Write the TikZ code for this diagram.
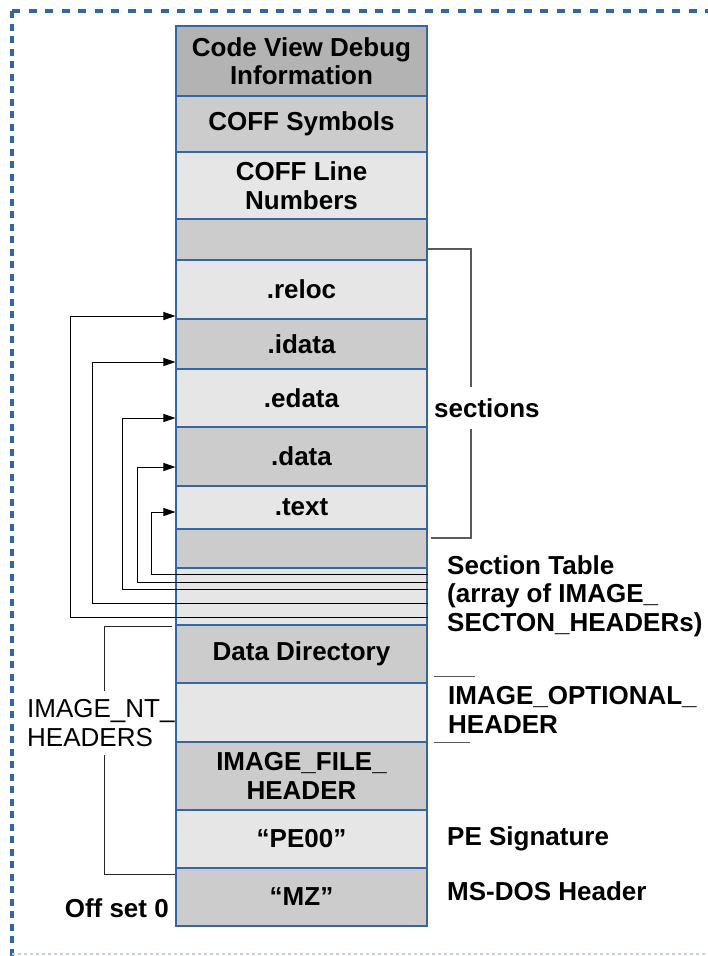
\documentclass[tikz,border=0pt]{standalone}
\usepackage{fontspec}
\setmainfont{Liberation Sans}
\usetikzlibrary{arrows.meta}

\definecolor{frameblue}{HTML}{3465A4}
\definecolor{cellborder}{HTML}{3465A4}
\definecolor{shadeA}{HTML}{B3B3B3}
\definecolor{shadeB}{HTML}{CCCCCC}
\definecolor{shadeC}{HTML}{E6E6E6}
\definecolor{brackgray}{HTML}{5A5A5A}

\begin{document}
\begin{tikzpicture}[x=1pt,y=-1pt,
  cell/.style={draw=cellborder, line width=1.1pt, minimum width=251pt,
    inner sep=0pt, align=center,
    font=\fontsize{26}{28.5}\selectfont\bfseries},
  lbl/.style={inner sep=0pt, anchor=west, align=left,
    font=\fontsize{26}{28.5}\selectfont\bfseries},
  lblreg/.style={inner sep=0pt, anchor=west, align=left,
    font=\fontsize{26}{28.5}\selectfont},
  ptr/.style={draw=black, line width=0.9pt,
    -{Triangle[length=12pt,width=8pt]}},
  brk/.style={draw=brackgray, line width=1.3pt},
  brkdark/.style={draw=black!85, line width=1pt},
  tick/.style={draw=brackgray, line width=1.2pt},
]
\useasboundingbox (0,0) rectangle (708,956);

% dashed outer frame
\draw[frameblue, line width=3.5pt, dash pattern=on 8pt off 8.5pt] (12,11) -- (708,11);
\draw[frameblue, line width=3.5pt, dash pattern=on 7pt off 5.5pt] (12,11) -- (12,956);
\draw[frameblue!30, line width=1.5pt, dash pattern=on 3pt off 3pt] (12,954) -- (708,954);

% the PE file layout, top of file at the top
\node[cell, fill=shadeA, minimum height=70pt] (cv)     at (301.5,61)    {Code View Debug\\Information};
\node[cell, fill=shadeB, minimum height=56pt] (coffsym) at (301.5,124)  {COFF Symbols};
\node[cell, fill=shadeC, minimum height=67pt] (coffln) at (301.5,185.5) {COFF Line\\Numbers};
\node[cell, fill=shadeB, minimum height=41pt] (blankA) at (301.5,239.5) {};
\node[cell, fill=shadeC, minimum height=59pt] (reloc)  at (301.5,289.5) {.reloc};
\node[cell, fill=shadeB, minimum height=50pt] (idata)  at (301.5,344)   {.idata};
\node[cell, fill=shadeC, minimum height=58pt] (edata)  at (301.5,398)   {.edata};
\node[cell, fill=shadeB, minimum height=59pt] (data)   at (301.5,456.5) {.data};
\node[cell, fill=shadeC, minimum height=43pt] (text)   at (301.5,507.5) {.text};
\node[cell, fill=shadeB, minimum height=39pt] (blankB) at (301.5,548.5) {};
\node[cell, fill=shadeC, minimum height=57pt] (sectab) at (301.5,596.5) {};
\node[cell, fill=shadeB, minimum height=58pt] (ddir)   at (301.5,654)   {\raisebox{-3pt}{Data Directory}};
\node[cell, fill=shadeC, minimum height=59pt] (opt)    at (301.5,712.5) {};
\node[cell, fill=shadeB, minimum height=68pt] (fhdr)   at (301.5,776)   {IMAGE\_FILE\_\\HEADER};
\node[cell, fill=shadeC, minimum height=58pt] (pe)     at (301.5,839)   {“PE00”};
\node[cell, fill=shadeB, minimum height=58pt] (mz)     at (301.5,897)   {“MZ”};

% section headers pointing at their sections
\draw[ptr] ([yshift=22.5pt]sectab.east) -- ++(-276,0) |- ([yshift=-4.5pt]text.west);
\draw[ptr] ([yshift=14.5pt]sectab.east) -- ++(-290,0) |- ([yshift=-10.5pt]data.west);
\draw[ptr] ([yshift=7.5pt]sectab.east)  -- ++(-305,0) |- ([yshift=-20pt]edata.west);
\draw[ptr] ([yshift=-6.5pt]sectab.east) -- ++(-335,0) |- ([yshift=-18pt]idata.west);
\draw[ptr] ([yshift=-20.5pt]sectab.east) -- ++(-357,0) |- ([yshift=-26.5pt]reloc.west);

% sections bracket
\coordinate (secx) at (471,0);
\node[lbl, minimum height=42pt] (seclbl) at (434,408) {sections};
\draw[brk] ([yshift=-9.5pt]blankA.east) -| (secx |- seclbl.north);
\draw[brk] (secx |- seclbl.south) |- ([yshift=10.5pt,xshift=3pt]blankB.east);

% right-hand labels
\node[lbl] (stlbl) at (447,596) {Section Table\\(array of IMAGE\_\\SECTON\_HEADERs)};
\node[lbl] (optlbl) at (448,710) {IMAGE\_OPTIONAL\_\\HEADER};
\draw[tick] ([xshift=6pt,yshift=6pt]opt.north east) -- ++(41,0);
\draw[tick] ([xshift=6pt]opt.south east) -- ++(36,0);
\node[lbl] (pelbl) at (447,839) {PE Signature};
\node[lbl] (mzlbl) at (447,891) {MS-DOS Header};

% NT headers bracket
\coordinate (ntx) at (104,0);
\node[lblreg, minimum height=64pt] (ntlbl) at (27,723) {IMAGE\_NT\_\\HEADERS};
\draw[brkdark] ([yshift=-2pt,xshift=-3pt]ddir.north west) -| (ntx |- ntlbl.north);
\draw[brkdark] (ntx |- ntlbl.south) |- ([yshift=-7pt]mz.north west);

% file offset
\node[lbl, anchor=east] (off) at (169,908) {Off set 0};
\end{tikzpicture}
\end{document}
